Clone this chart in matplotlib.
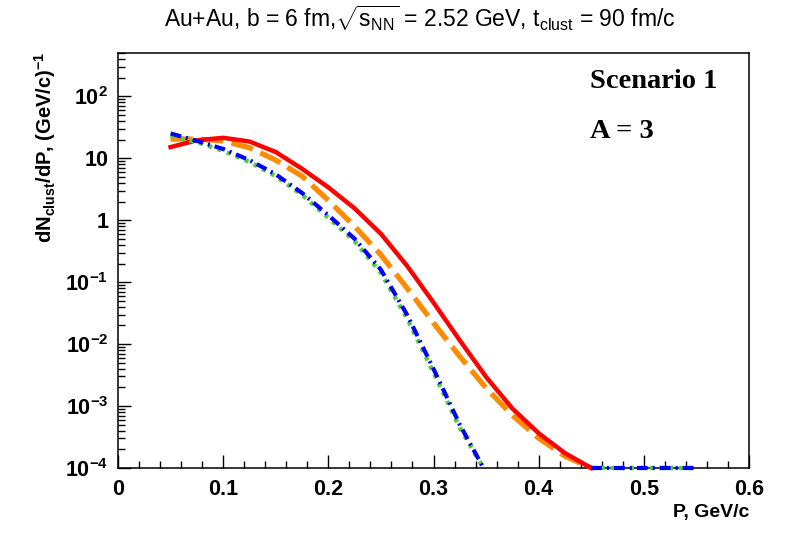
import numpy as np
import matplotlib
matplotlib.use("Agg")
import matplotlib.pyplot as plt
from matplotlib.ticker import FixedLocator, MultipleLocator, NullFormatter

plt.rcParams['font.family'] = ['Liberation Sans', 'DejaVu Sans']
plt.rcParams['mathtext.fontset'] = 'custom'
plt.rcParams['mathtext.rm'] = 'Liberation Sans'
plt.rcParams['mathtext.it'] = 'Liberation Sans:italic'
plt.rcParams['mathtext.bf'] = 'Liberation Sans:bold'

# ---- data (log10 of dN/dP) ----
p_main = [0.05, 0.075, 0.10, 0.125, 0.15, 0.175, 0.20, 0.225, 0.25, 0.275,
          0.30, 0.325, 0.35, 0.375, 0.40, 0.425, 0.45]
log_red = [1.18, 1.29, 1.33, 1.27, 1.10, 0.83, 0.53, 0.19, -0.22, -0.74,
           -1.33, -1.94, -2.53, -3.04, -3.44, -3.76, -4.0]
log_orange = [1.31, 1.31, 1.28, 1.17, 0.97, 0.71, 0.32, -0.10, -0.56, -1.10,
              -1.66, -2.20, -2.71, -3.15, -3.52, -3.81, -4.0]

p_low = [0.05, 0.075, 0.10, 0.125, 0.15, 0.175, 0.20, 0.225, 0.25, 0.275,
         0.30, 0.325, 0.3475]
log_blue = [1.40, 1.28, 1.15, 0.97, 0.74, 0.44, 0.08, -0.30, -0.80, -1.53,
            -2.40, -3.30, -4.0]
log_green = [1.36, 1.26, 1.12, 0.94, 0.71, 0.41, 0.04, -0.34, -0.85, -1.59,
             -2.46, -3.35, -4.0]

p_floor = [0.45, 0.55]
floor_val = [1e-4, 1e-4]

y_ticks = [1e-4, 1e-3, 1e-2, 1e-1, 1, 10, 100]
y_tick_labels = [r'$\mathbf{10^{-4}}$', r'$\mathbf{10^{-3}}$', r'$\mathbf{10^{-2}}$',
                 r'$\mathbf{10^{-1}}$', '1', '10', r'$\mathbf{10^{2}}$']
x_ticks = [0, 0.1, 0.2, 0.3, 0.4, 0.5, 0.6]
x_tick_labels = ['0', '0.1', '0.2', '0.3', '0.4', '0.5', '0.6']

red = 10 ** np.array(log_red)
orange = 10 ** np.array(log_orange)
blue = 10 ** np.array(log_blue)
green = 10 ** np.array(log_green)

fig = plt.figure(figsize=(7.88, 5.34), dpi=100)
ax = fig.add_axes([118/788, 1-468/534, (749-118)/788, (468-53)/534])
ax.set_yscale('log')
ax.set_xlim(0, 0.6)
ax.set_ylim(1e-4, 500)

ax.plot(p_main, orange, color='#ff8c00', lw=3.8, dashes=(4.2, 1.6), clip_on=False, zorder=3,
        solid_joinstyle='round', dash_joinstyle='round')
ax.plot(p_main, red, color='#ff0000', lw=3.2, clip_on=False, zorder=4, solid_joinstyle='round')
ax.plot(p_low, green, color='#55cc44', lw=3.2, dashes=(0.9, 1.3), clip_on=False, zorder=5)
ax.plot(p_low, blue, color='#0000ff', lw=3.0, dashes=(2.6, 1.2, 0.5, 1.2), clip_on=False, zorder=6)
ax.plot(p_floor, floor_val, color='#55cc44', lw=3.2, dashes=(0.9, 1.3), clip_on=False, zorder=5)
ax.plot(p_floor, floor_val, color='#0000ff', lw=3.0, dashes=(2.6, 1.2, 0.5, 1.2), clip_on=False, zorder=6)

for s in ax.spines.values():
    s.set_linewidth(1.1)
    s.set_zorder(2)

ax.xaxis.set_major_locator(FixedLocator(x_ticks))
ax.set_xticklabels(x_tick_labels)
ax.xaxis.set_minor_locator(MultipleLocator(0.02))
ax.yaxis.set_major_locator(FixedLocator(y_ticks))
ax.set_yticklabels(y_tick_labels)
minor_y = [m * 10.0 ** e for e in range(-4, 3) for m in range(2, 10)]
ax.yaxis.set_minor_locator(FixedLocator(minor_y))
ax.yaxis.set_minor_formatter(NullFormatter())

ax.tick_params(axis='both', which='both', direction='in', top=False, right=False, width=1.0)
ax.tick_params(axis='x', which='major', length=9.5, pad=8, labelsize=15.5)
ax.tick_params(axis='x', which='minor', length=5)
ax.tick_params(axis='y', which='major', length=9.5, pad=7, labelsize=15.5)
ax.tick_params(axis='y', which='minor', length=5)
for lab in ax.get_xticklabels() + ax.get_yticklabels():
    lab.set_fontweight('bold')

fig.text(749/788, 1-513/534, 'P, GeV/c', ha='right', va='center', fontsize=14, fontweight='bold')
fig.text(45/788, 1-52/534, r'dN$_{\mathbf{clust}}$/dP, (GeV/c)$^{\mathbf{-1}}$', rotation=90,
         ha='center', va='top', fontsize=14.5, fontweight='bold')

fig.text(420/788, 1-18/534,
         r'Au+Au, b = 6 fm,$\sqrt{\mathrm{s_{NN}}}$ = 2.52 GeV, t$_{\mathrm{clust}}$ = 90 fm/c',
         ha='center', va='center', fontsize=16.5)

fig.text(590/788, 1-82/534, 'Scenario 1', family='Liberation Serif', fontweight='bold',
         fontsize=20.5, ha='left', va='center')
fig.text(590/788, 1-131/534, 'A = 3', family='Liberation Serif', fontweight='bold',
         fontsize=20.5, ha='left', va='center')

fig.savefig('out.png', dpi=100)
